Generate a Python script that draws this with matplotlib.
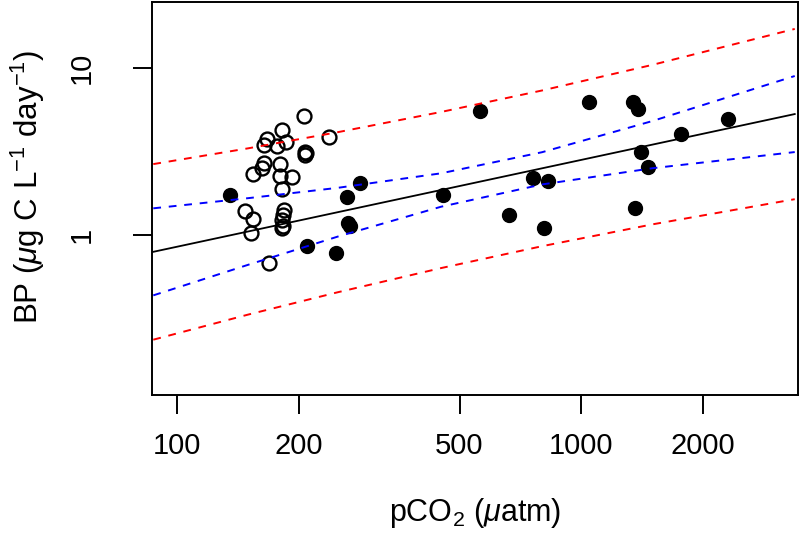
import matplotlib
matplotlib.use('Agg')
import matplotlib.pyplot as plt

plt.rcParams['font.family'] = 'Liberation Sans'
plt.rcParams['mathtext.fontset'] = 'custom'
plt.rcParams['mathtext.rm'] = 'Liberation Sans'
plt.rcParams['mathtext.it'] = 'Liberation Sans:italic'

# open circles (low pCO2 group)
open_pco2 = [206.3, 238.3, 182.3, 166.8, 164.5, 176.6, 186.2, 207.5, 207.0, 208.7,
             164.5, 162.1, 154.0, 180.0, 180.0, 192.3, 182.3, 147.5, 154.0, 152.3,
             184.1, 183.4, 182.3, 183.4, 182.3, 169.3]
open_bp = [5.17, 3.88, 4.26, 3.74, 3.46, 3.41, 3.62, 3.15, 3.01, 3.08,
           2.69, 2.51, 2.32, 2.65, 2.25, 2.23, 1.87, 1.39, 1.25, 1.03,
           1.41, 1.31, 1.23, 1.13, 1.09, 0.673]

# filled circles
filled_pco2 = [135.4, 209.5, 247.5, 263.0, 265.5, 268.1, 283.8, 454.4, 561.9, 662.8,
               758.6, 826.0, 810.1, 1045, 1340, 1384, 1358, 1403, 1464, 1761, 2309]
filled_bp = [1.73, 0.859, 0.773, 1.69, 1.171, 1.128, 2.04, 1.73, 5.54, 1.31,
             2.20, 2.10, 1.09, 6.25, 6.25, 5.67, 1.453, 3.13, 2.54, 4.01, 4.96]

# regression line and bands
band_pco2 = [87.5, 150, 250, 450, 800, 1500, 3370]
fit_bp = [0.789, 1.045, 1.365, 1.855, 2.505, 3.477, 5.305]
ci_hi = [1.440, 1.657, 1.912, 2.337, 3.130, 4.819, 8.98]
ci_lo = [0.432, 0.659, 0.974, 1.472, 2.004, 2.508, 3.136]
pi_hi = [2.655, 3.301, 4.128, 5.459, 7.351, 10.48, 17.22]
pi_lo = [0.234, 0.331, 0.451, 0.630, 0.853, 1.154, 1.634]

xticks = [100, 200, 500, 1000, 2000]
yticks = [1, 10]

fig = plt.figure(figsize=(8, 5.34), dpi=100)
ax = fig.add_axes([0.1906, 0.2603, 0.8069, 0.736])

ax.plot(open_pco2, open_bp, 'o', mfc='none', mec='black', ms=10, mew=1.7, zorder=2)
ax.plot(filled_pco2, filled_bp, 'o', color='black', ms=10, zorder=2)

ax.plot(band_pco2, fit_bp, color='black', lw=1.3, zorder=3)
for ys, c in [(ci_hi, 'blue'), (ci_lo, 'blue'), (pi_hi, 'red'), (pi_lo, 'red')]:
    ax.plot(band_pco2, ys, color=c, lw=1.4, dashes=(4, 4), zorder=3)

ax.set_xscale('log')
ax.set_yscale('log')
ax.set_xlim(87.1, 3433)
ax.set_ylim(0.1089, 25.0)

ax.set_xticks(xticks)
ax.set_xticklabels([str(t) for t in xticks])
ax.set_yticks(yticks)
ax.set_yticklabels([str(t) for t in yticks], rotation=90, va='center')
ax.minorticks_off()
ax.tick_params(length=13.5, width=1.4, labelsize=21)
ax.tick_params(axis='x', pad=13)
ax.tick_params(axis='y', pad=27)

for s in ax.spines.values():
    s.set_linewidth(1.4)

ax.set_xlabel(r'pCO$_2$ ($\mu$atm)', fontsize=22, labelpad=26)
ax.set_ylabel(r'BP ($\mu$g C L$^{-1}$ day$^{-1}$)', fontsize=22.5, labelpad=15)
ax.yaxis.label.set_y(0.53)

fig.savefig('out.png', dpi=100)
